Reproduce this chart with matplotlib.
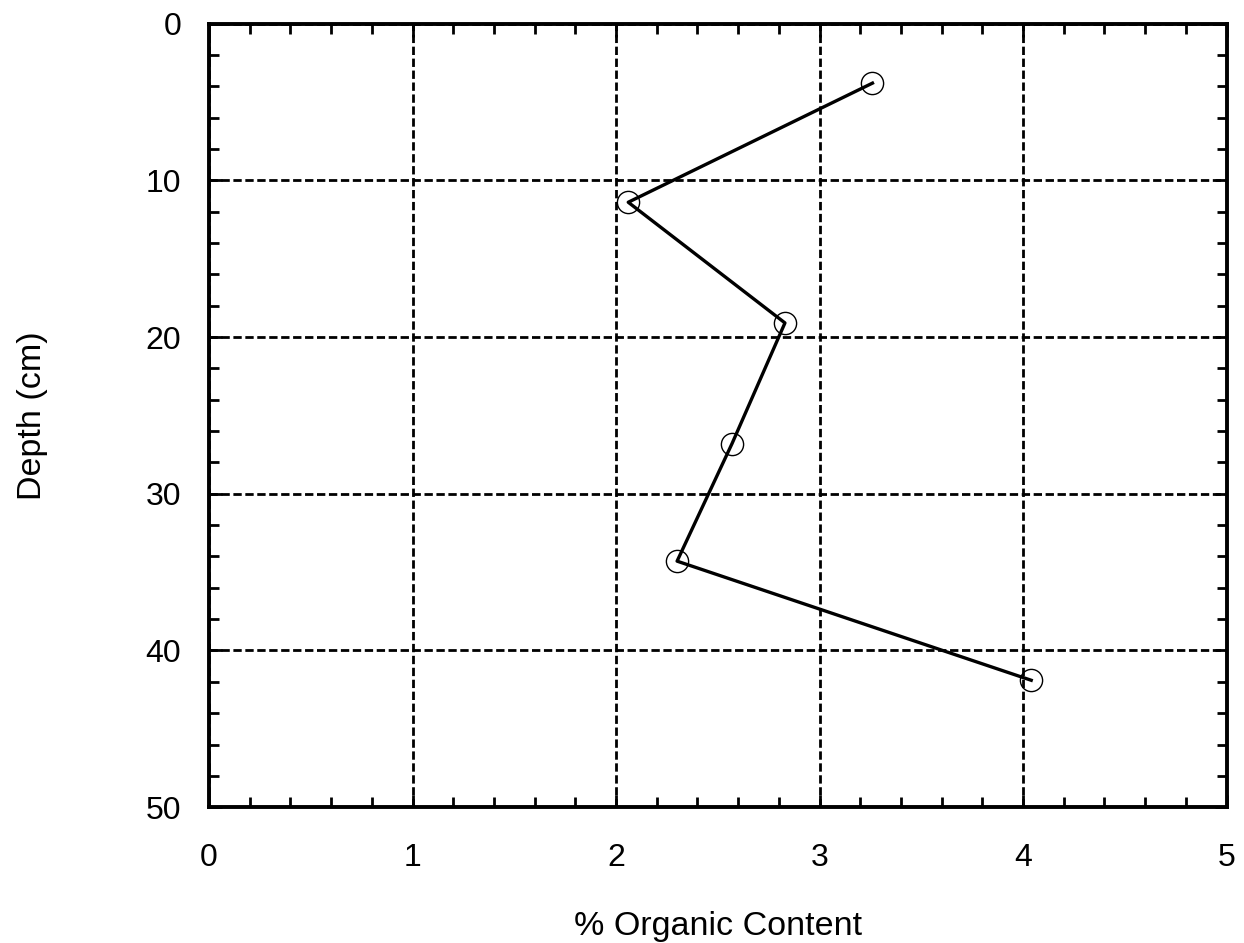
import matplotlib.pyplot as plt
from matplotlib.ticker import MultipleLocator

# organic content profile down the core
organic = [3.26, 2.06, 2.83, 2.57, 2.30, 4.04]
depth = [3.8, 11.4, 19.1, 26.8, 34.3, 41.9]

plt.rcParams['font.family'] = ['Liberation Sans', 'DejaVu Sans']

fig = plt.figure(figsize=(12.44, 9.43), dpi=100)
ax = fig.add_axes([0.168, 0.144, 0.818, 0.831])

ax.plot(organic, depth, color="black", linewidth=2.4, zorder=3)
ax.plot(organic, depth, linestyle="none", marker="o", markersize=16,
        markerfacecolor="none", markeredgecolor="black", markeredgewidth=1.0, zorder=4)

ax.set_xlim(0, 5)
ax.set_ylim(50, 0)
ax.xaxis.set_major_locator(MultipleLocator(1))
ax.xaxis.set_minor_locator(MultipleLocator(0.2))
ax.yaxis.set_major_locator(MultipleLocator(10))
ax.yaxis.set_minor_locator(MultipleLocator(2))

ax.grid(True, which="major", color="black", linestyle=(0, (3, 1.3)), linewidth=2.0)
ax.tick_params(which="both", direction="in", top=True, right=True, width=2.0, labelsize=23)
ax.tick_params(which="major", length=9)
ax.tick_params(which="minor", length=7)
ax.tick_params(axis="x", which="major", pad=26)
ax.tick_params(axis="y", which="major", pad=20)
for spine in ax.spines.values():
    spine.set_linewidth(2.8)

ax.set_xlabel("% Organic Content", fontsize=24.5, labelpad=27)
ax.set_ylabel("Depth (cm)", fontsize=24.5, labelpad=70)

fig.savefig("out.png", dpi=100)
